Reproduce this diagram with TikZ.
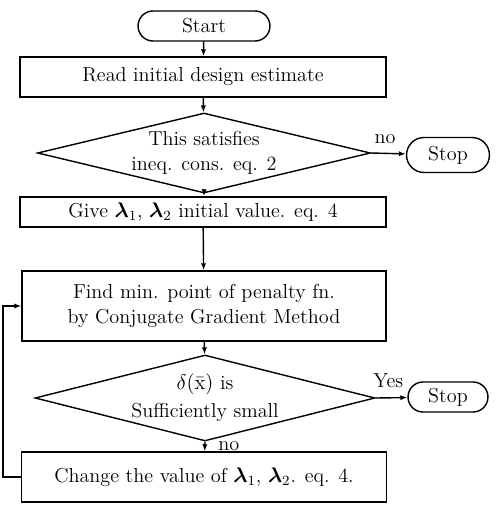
\documentclass[tikz,border=0pt]{standalone}
\usepackage{amsmath,amssymb}
\usepackage{bm}
\usepackage{tikz}
\usetikzlibrary{calc,positioning,arrows.meta,shapes.geometric,shapes.misc}

\tikzset{
  term/.style={draw, rounded rectangle, inner sep=2pt},
  proc/.style={draw, rectangle, inner sep=2pt, align=center},
  decide/.style={draw, diamond, aspect=4, inner sep=0pt, align=center},
  flow/.style={-{Latex[length=4pt,width=3pt]}, thick}
}

\begin{document}
\begin{tikzpicture}[x=0.02cm, y=-0.02cm, thick, font=\fontsize{11.5pt}{14pt}\selectfont]
\useasboundingbox (0,0) rectangle (497,511);
\node [term, minimum width=2.78cm, minimum height=0.6cm] (start) at (204,26) {Start};
\node [proc, minimum width=7.32cm, minimum height=0.8cm] (read) at (203,77) {Read initial design estimate};
\node [decide, minimum width=6.66cm, minimum height=1.6cm] (sat) at (204,153) {This satisfies\\ineq. cons. eq. 2};
\node [term, minimum width=1.8cm, minimum height=0.7cm] (stopa) at (448,155) {Stop};
\node [proc, minimum width=7.32cm, minimum height=0.6cm] (give) at (203,212) {Give $\bm{\lambda}_1$, $\bm{\lambda}_2$ initial value. eq. 4};
\node [proc, minimum width=7.28cm, minimum height=1.4cm] (find) at (204,306) {Find min. point of penalty fn.\\by Conjugate Gradient Method};
\node [decide, minimum width=6.8cm, minimum height=1.72cm] (small) at (205,398) {$\delta(\bar{\mathrm{x}})$ is\\[2pt]Sufficiently small};
\node [term, minimum width=1.74cm, minimum height=0.6cm] (stopb) at (448,397) {Stop};
\node [proc, minimum width=7.3cm, minimum height=1cm] (change) at (204,477) {Change the value of $\bm{\lambda}_1$, $\bm{\lambda}_2$. eq. 4.};
\coordinate (loop) at (3,0);

\draw [flow] (start) -- (read);
\draw [flow] (read) -- (sat);
\draw [flow] (sat.east) -- (stopa) node [pos=0.4, above=2pt] {no};
\draw [flow] (sat.south) -- (give);
\draw [flow] (give) -- (find);
\draw [flow] (find) -- (small);
\draw [flow] (small.east) -- (stopb) node [pos=0.4, above=2pt] {Yes};
\draw [flow] (small.south) -- (change) node [pos=0.5, right=4pt] {no};
\draw [flow] (change.west) -| (loop |- find) -- (find.west);
\end{tikzpicture}
\end{document}
